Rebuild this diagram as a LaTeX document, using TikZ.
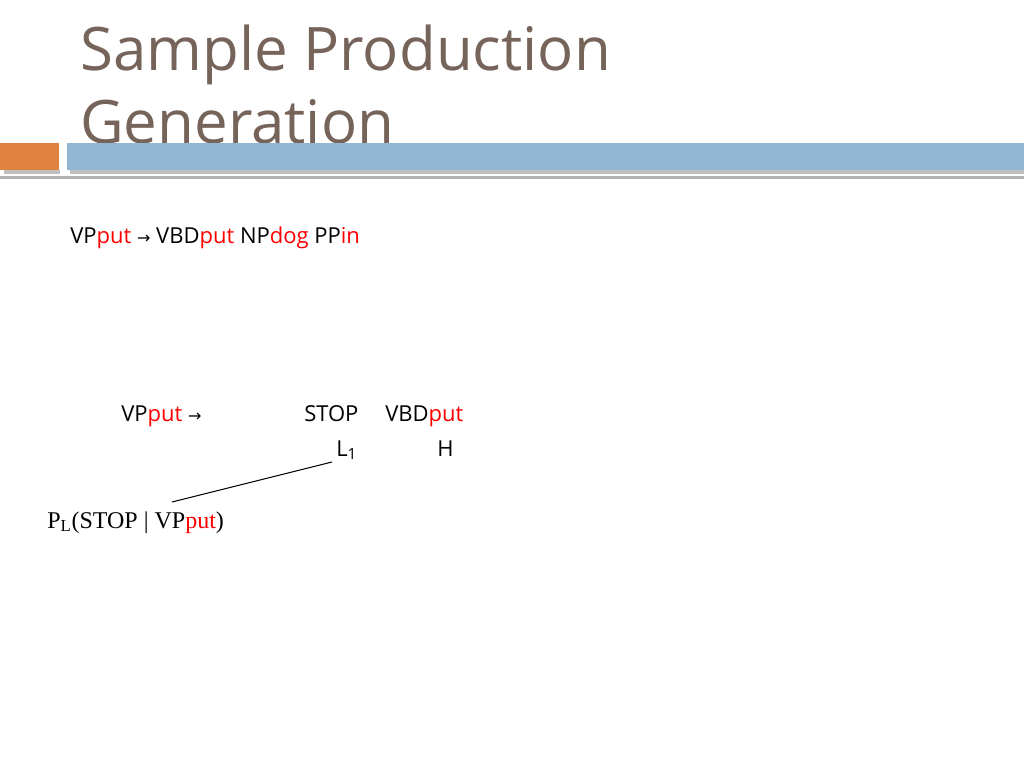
\documentclass[tikz,border=0pt]{standalone}
\usepackage{fontspec}
\setmainfont{Open Sans}
\newfontfamily\timesf{Liberation Serif}
\newfontfamily\dejav{DejaVu Sans}
\definecolor{ttl}{HTML}{76645A}
\definecolor{org}{HTML}{E0823F}
\definecolor{blu}{HTML}{93B6D3}
\begin{document}
\begin{tikzpicture}[x=0.75pt,y=-0.75pt,
  txt/.style={anchor=base west,inner sep=0,font=\fontsize{16.5}{18}\selectfont},
  r/.style={text=red}]
\useasboundingbox[fill=white] (0,0) rectangle (1024,768);
\node[anchor=base west,inner sep=0,text=ttl,font=\fontsize{45}{54}\selectfont] (t1) at (80,70) {Sample Production};
\node[anchor=base west,inner sep=0,text=ttl,font=\fontsize{45}{54}\selectfont] (t2) at (80,143) {Generation};
\fill[gray!50] (4,170) rectangle (60,174);
\fill[gray!50] (70,170) rectangle (1024,174);
\fill[gray!60] (0,176) rectangle (1024,179);
\fill[org] (0,143) rectangle (59,170);
\fill[blu] (67,143) rectangle (1024,170);
\node[txt] (rule) at (70,243) {VP\textcolor{red}{put} {\dejav\fontsize{12}{14}\selectfont →} VBD\textcolor{red}{put} NP\textcolor{red}{dog} PP\textcolor{red}{in}};
\node[txt] (lhs) at (121,421) {VP\textcolor{red}{put} {\dejav\fontsize{12}{14}\selectfont →}};
\node[txt] (stop) at (304,421) {STOP};
\node[txt] (vbd) at (385,421) {VBD\textcolor{red}{put}};
\node[txt] (l1) at (336,456) {L\textsubscript{1}};
\node[txt] (h) at (437,456) {H};
\node[anchor=base west,inner sep=0,font=\timesf\fontsize{18}{20}\selectfont] (pl) at (47,528) {P\textsubscript{L}(STOP | VP\textcolor{red}{put})};
\coordinate (a) at (332,462);
\coordinate (b) at (172,502);
\draw[line width=0.8pt] (a) -- (b);
\end{tikzpicture}
\end{document}
